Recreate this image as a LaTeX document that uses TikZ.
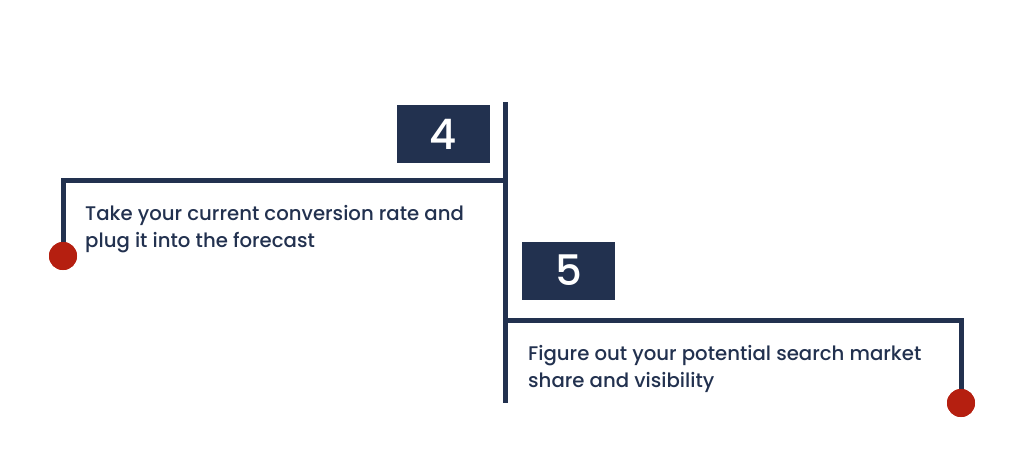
\documentclass[tikz,border=0pt]{standalone}
\usepackage{fontspec}
\setmainfont{Poppins}[UprightFont=* Medium]
\usetikzlibrary{positioning}
\definecolor{navy}{HTML}{22314F}
\definecolor{dotred}{HTML}{B51F10}

\begin{document}
\begin{tikzpicture}[x=1pt, y=-1pt,
        numberbox/.style={rectangle, fill=navy, text=white, minimum width=93pt, minimum height=58pt, inner sep=0pt, font=\fontsize{42}{42}\selectfont},
        stepdot/.style={circle, fill=dotred, minimum size=28pt, inner sep=0pt},
        stepline/.style={draw=navy, line width=5pt},
        steptext/.style={anchor=base west, align=left, inner sep=0pt, text=navy, font=\fontsize{19.7}{27}\selectfont},
]
        \useasboundingbox (0,0) rectangle (1024,452);

        \coordinate (spinetop) at (505.5,102);
        \coordinate (spinebottom) at (505.5,403);
        \coordinate (branchfour) at (505.5,180.5);
        \coordinate (branchfive) at (505.5,320.5);

        \node[numberbox] (numfour) at (443.5,134) {4};
        \node[numberbox] (numfive) at (568.5,270.5) {5};
        \node[stepdot] (dotfour) at (63,256) {};
        \node[stepdot] (dotfive) at (961,403) {};

        % base anchor sits on the last line
        \node[steptext] (textfour) at (85,247) {Take your current conversion rate and\\plug it into the forecast};
        \node[steptext] (textfive) at (528,387) {Figure out your potential search market\\share and visibility};

        \draw[stepline] (spinetop) -- (spinebottom);
        \draw[stepline] (branchfour) -| (dotfour.center);
        \draw[stepline] (branchfive) -| (dotfive.center);
        \node[stepdot] at (dotfour) {};
        \node[stepdot] at (dotfive) {};
    \end{tikzpicture}
\end{document}
